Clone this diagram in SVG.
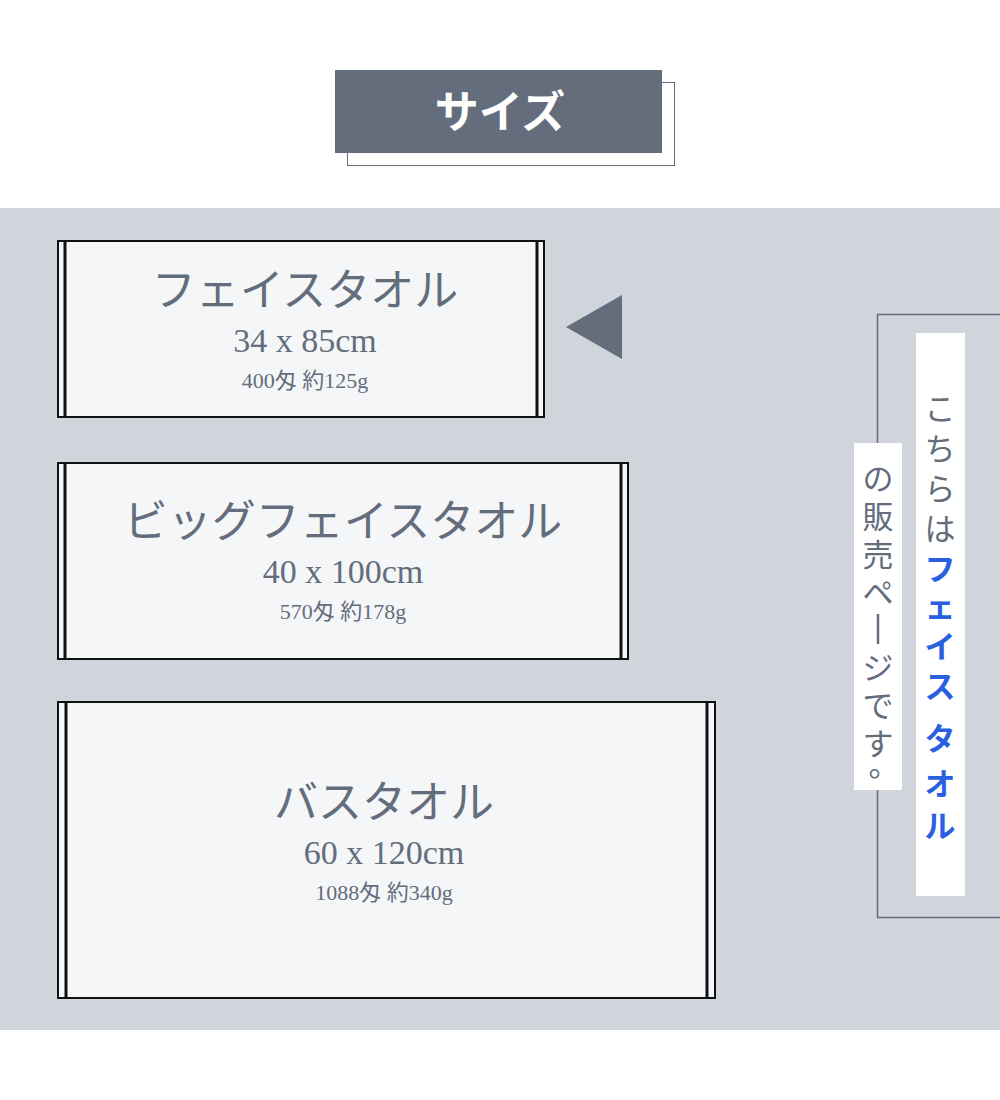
<svg xmlns="http://www.w3.org/2000/svg" width="1000" height="1100" viewBox="0 0 1000 1100">
<style>
.t{fill:#f5f6f8;stroke:#111;stroke-width:2}
.e{stroke:#111;stroke-width:3}
.tx{fill:#636d7c;font-family:"Liberation Serif","Noto Sans CJK JP",serif;text-anchor:middle}
.h{font-size:44px}.s{font-size:34px}.w{font-size:22px}
.v{font-family:"Noto Sans CJK JP",sans-serif;text-anchor:middle;font-size:31px;fill:#636d7c}
.b{fill:#2a5fe0;font-weight:bold}
</style>
<rect width="1000" height="1100" fill="#fff"/>
<g id="title">
<rect x="347.5" y="82.5" width="327" height="83" fill="none" stroke="#636d7c"/>
<rect x="335" y="70" width="327" height="83" fill="#636d7c"/>
<text x="500" y="128" font-family="Liberation Serif,Noto Sans CJK JP,serif" font-weight="bold" font-size="44" fill="#fff" text-anchor="middle">サイズ</text>
</g>
<rect x="0" y="208" width="1000" height="822" fill="#d0d5dc"/>
<g id="towel1">
<rect class="t" x="58" y="241" width="486" height="176"/>
<line class="e" x1="65" y1="241" x2="65" y2="417"/><line class="e" x1="537" y1="241" x2="537" y2="417"/>
<text class="tx h" x="305" y="306">フェイスタオル</text>
<text class="tx s" x="305" y="352">34 x 85cm</text>
<text class="tx w" x="305" y="388">400匁 約125g</text>
</g>
<g id="towel2">
<rect class="t" x="58" y="463" width="570" height="196"/>
<line class="e" x1="65" y1="463" x2="65" y2="659"/><line class="e" x1="621" y1="463" x2="621" y2="659"/>
<text class="tx h" x="343" y="537">ビッグフェイスタオル</text>
<text class="tx s" x="343" y="583">40 x 100cm</text>
<text class="tx w" x="343" y="619">570匁 約178g</text>
</g>
<g id="towel3">
<rect class="t" x="58" y="702" width="657" height="296"/>
<line class="e" x1="66" y1="702" x2="66" y2="998"/><line class="e" x1="707" y1="702" x2="707" y2="998"/>
<text class="tx h" x="384" y="818">バスタオル</text>
<text class="tx s" x="384" y="864">60 x 120cm</text>
<text class="tx w" x="384" y="900">1088匁 約340g</text>
</g>
<g id="connectors">
<polygon points="566,327 622,295 622,359" fill="#636d7c"/>
</g>
<g id="note">
<rect x="877.5" y="314.5" width="130" height="603" fill="none" stroke="#636d7c" stroke-width="1.5"/>
<rect x="916" y="333" width="49" height="563" fill="#fff"/>
<rect x="854" y="443" width="48" height="347" fill="#fff"/>
<text class="v" x="940" y="420">こ</text>
<text class="v" x="940" y="460">ち</text>
<text class="v" x="940" y="500">ら</text>
<text class="v" x="940" y="540">は</text>
<text class="v b" x="940" y="580">フ</text>
<text class="v b" x="940" y="618">ェ</text>
<text class="v b" x="940" y="658">イ</text>
<text class="v b" x="940" y="698">ス</text>
<text class="v b" x="940" y="750">タ</text>
<text class="v b" x="940" y="795">オ</text>
<text class="v b" x="940" y="837">ル</text>
<text class="v" x="878" y="490">の</text>
<text class="v" x="878" y="528">販</text>
<text class="v" x="878" y="566">売</text>
<text class="v" x="878" y="604">ペ</text>
<line x1="878" y1="614" x2="878" y2="644" stroke="#636d7c" stroke-width="2.5"/>
<text class="v" x="878" y="679">ジ</text>
<text class="v" x="878" y="717">で</text>
<text class="v" x="878" y="755">す</text>
<text class="v" x="884" y="776">。</text>
</g>
</svg>
